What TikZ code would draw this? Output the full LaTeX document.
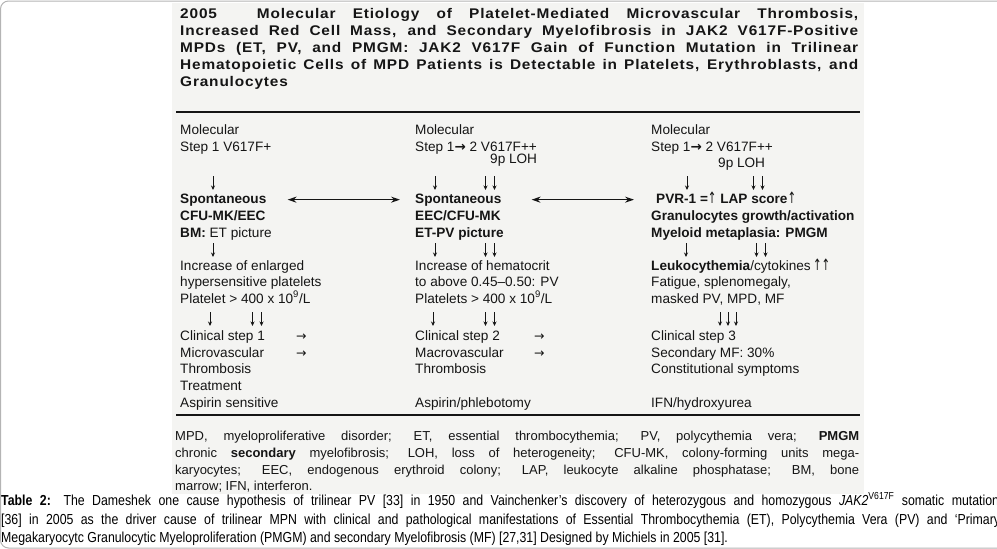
\documentclass[tikz,border=0pt]{standalone}
\usepackage{fontspec}
\setmainfont{Liberation Sans}
\newfontfamily\titlefont[LetterSpace=6,FakeStretch=1.1]{Liberation Sans}
\newfontfamily\capfont[FakeStretch=0.85]{Liberation Sans}
\newfontfamily\symfont{DejaVu Sans}
\usetikzlibrary{arrows.meta}
\definecolor{scanbg}{HTML}{F4F4F2}
\definecolor{ink}{HTML}{151515}
\definecolor{framec}{HTML}{B4B4B4}
\newcommand\darr[3]{\draw[dnarr] (#1,#2) -- (#1,#3);}
\newcommand\rarr{{\symfont\mdseries\fontsize{12.5}{12}\selectfont →}}
\newcommand\sarr{{\symfont\bfseries\fontsize{13.5}{12}\selectfont →}}
\newcommand\uarr{{\symfont\mdseries\scalebox{0.75}[1.15]{↑}}}
\begin{document}
\begin{tikzpicture}[x=1pt,y=-1pt,
  body/.style={anchor=base west, inner sep=0pt, text=ink, font=\fontsize{13.6}{16}\selectfont},
  bodyb/.style={anchor=base west, inner sep=0pt, text=ink, font=\fontsize{13.6}{16}\selectfont\bfseries},
  ttl/.style={anchor=base west, inner sep=0pt, text=ink, font=\titlefont\fontsize{14}{16}\selectfont\bfseries},
  foot/.style={anchor=base west, inner sep=0pt, text=ink, font=\fontsize{13}{16}\selectfont},
  capt/.style={anchor=base west, inner sep=0pt, text=black, font=\capfont\fontsize{14.5}{18}\selectfont},
  rulel/.style={draw=ink, line width=2.8pt},
  dnarr/.style={draw=ink, line width=0.9pt, -{Stealth[length=4.5pt,width=4pt]}},
  harr/.style={draw=ink, line width=1.3pt, {Stealth[length=9pt,width=6pt]}-{Stealth[length=9pt,width=6pt]}},
  frame/.style={draw=framec, line width=1pt, rounded corners=8pt}]
\useasboundingbox (0,0) rectangle (997,549);
\fill[scanbg] (172,3) rectangle (864,494);
\draw[frame] (0.5,1) rectangle (1100,548);

% title
\node[ttl] (t1) at (180,18.3) {\makebox[678pt][s]{2005\hspace{40pt}Molecular Etiology of Platelet-Mediated Microvascular Thrombosis,}};
\node[ttl] (t2) at (180,35) {\makebox[678pt][s]{Increased Red Cell Mass, and Secondary Myelofibrosis in JAK2 V617F-Positive}};
\node[ttl] (t3) at (180,52) {\makebox[678pt][s]{MPDs (ET, PV, and PMGM: JAK2 V617F Gain of Function Mutation in Trilinear}};
\node[ttl] (t4) at (180,69) {\makebox[678pt][s]{Hematopoietic Cells of MPD Patients is Detectable in Platelets, Erythroblasts, and}};
\node[ttl] (t5) at (180,86) {Granulocytes};

\draw[rulel] (176,112) -- (860,112);
\draw[rulel] (176,415) -- (860,415);

% column 1
\node[body] (a1) at (180,134.5) {Molecular};
\node[body] (a2) at (180,151.5) {Step 1 V617F+};
\node[bodyb] (a3) at (180,203) {Spontaneous};
\node[bodyb] (a4) at (180,220) {CFU-MK/EEC};
\node[body] (a5) at (180,237) {\textbf{BM:} ET picture};
\node[body] (a6) at (180,270) {Increase of enlarged};
\node[body] (a7) at (180,286.5) {hypersensitive platelets};
\node[body] (a8) at (180,303) {Platelet > 400 x 10\textsuperscript{9}/L};
\node[body] (a9) at (180,340) {Clinical step 1};
\node[body] (a9r) at (296,340) {\rarr};
\node[body] (a10) at (180,357) {Microvascular};
\node[body] (a10r) at (296,357) {\rarr};
\node[body] (a11) at (180,373.5) {Thrombosis};
\node[body] (a12) at (180,390) {Treatment};
\node[body] (a13) at (180,407) {Aspirin sensitive};
\darr{213}{176}{190}
\darr{213}{243}{257}
\darr{210}{312}{326}
\darr{252.5}{312}{326}
\darr{261.5}{312}{326}

% column 2
\node[body] (b1) at (415,134.5) {Molecular};
\node[body] (b2) at (415,151.5) {Step 1\sarr\ 2 V617F++};
\node[body] (b2b) at (490,163.5) {9p LOH};
\node[bodyb] (b3) at (415,203) {Spontaneous};
\node[bodyb] (b4) at (415,220) {EEC/CFU-MK};
\node[bodyb] (b5) at (415,237) {ET-PV picture};
\node[body] (b6) at (415,270) {Increase of hematocrit};
\node[body] (b7) at (415,286.5) {to above 0.45–0.50: PV};
\node[body] (b8) at (415,303) {Platelets > 400 x 10\textsuperscript{9}/L};
\node[body] (b9) at (415,340) {Clinical step 2};
\node[body] (b9r) at (534,340) {\rarr};
\node[body] (b10) at (415,357) {Macrovascular};
\node[body] (b10r) at (534,357) {\rarr};
\node[body] (b11) at (415,373.5) {Thrombosis};
\node[body] (b13) at (415,407) {Aspirin/phlebotomy};
\darr{435}{176}{190}
\darr{485.5}{176}{190}
\darr{494.5}{176}{190}
\darr{435}{243}{257}
\darr{485.5}{243}{257}
\darr{494.5}{243}{257}
\darr{433}{312}{326}
\darr{485.5}{312}{326}
\darr{494.5}{312}{326}

% column 3
\node[body] (c1) at (651,134.5) {Molecular};
\node[body] (c2) at (651,151.5) {Step 1\sarr\ 2 V617F++};
\node[body] (c2b) at (718,167) {9p LOH};
\node[bodyb] (c3) at (656,203) {PVR-1 =\uarr\ LAP score\uarr};
\node[bodyb] (c4) at (651,220) {Granulocytes growth/activation};
\node[bodyb] (c5) at (651,237) {Myeloid metaplasia: PMGM};
\node[body] (c6) at (651,270) {\textbf{Leukocythemia}/cytokines\,\uarr\uarr};
\node[body] (c7) at (651,286.5) {Fatigue, splenomegaly,};
\node[body] (c8) at (651,303) {masked PV, MPD, MF};
\node[body] (c9) at (651,340) {Clinical step 3};
\node[body] (c10) at (651,357) {Secondary MF: 30\%};
\node[body] (c11) at (651,373.5) {Constitutional symptoms};
\node[body] (c13) at (651,407) {IFN/hydroxyurea};
\darr{687}{176}{190}
\darr{753.5}{176}{190}
\darr{762.5}{176}{190}
\darr{686}{243}{257}
\darr{756.5}{243}{257}
\darr{765.5}{243}{257}
\darr{720}{312}{326}
\darr{728}{312}{326}
\darr{736}{312}{326}

% horizontal double arrows
\draw[harr, shorten <=21pt, shorten >=15pt] (a3.east) -- (a3.east -| b3.west);
\draw[harr, shorten <=30pt, shorten >=22pt] (b3.east) -- (b3.east -| c3.west);

% footnote
\node[foot] (f1) at (175,440.5) {\makebox[684pt][s]{MPD, myeloproliferative disorder; ET, essential thrombocythemia; PV, polycythemia vera; \textbf{PMGM}}};
\node[foot] (f2) at (175,457.5) {\makebox[684pt][s]{chronic \textbf{secondary} myelofibrosis; LOH, loss of heterogeneity; CFU-MK, colony-forming units mega-}};
\node[foot] (f3) at (175,474) {\makebox[684pt][s]{karyocytes; EEC, endogenous erythroid colony; LAP, leukocyte alkaline phosphatase; BM, bone}};
\node[foot] (f4) at (175,490.5) {marrow; IFN, interferon.};

% caption
\node[capt] (k1) at (1,505) {\makebox[1004pt][s]{\textbf{Table 2:} The Dameshek one cause hypothesis of trilinear PV [33] in 1950 and Vainchenker’s discovery of heterozygous and homozygous \textit{JAK2}\textsuperscript{V617F} somatic mutations}};
\node[capt] (k2) at (1,524) {\makebox[999pt][s]{[36] in 2005 as the driver cause of trilinear MPN with clinical and pathological manifestations of Essential Thrombocythemia (ET), Polycythemia Vera (PV) and ‘Primary}};
\node[capt] (k3) at (1,542) {Megakaryocytc Granulocytic Myeloproliferation (PMGM) and secondary Myelofibrosis (MF) [27,31] Designed by Michiels in 2005 [31].};
\end{tikzpicture}
\end{document}
